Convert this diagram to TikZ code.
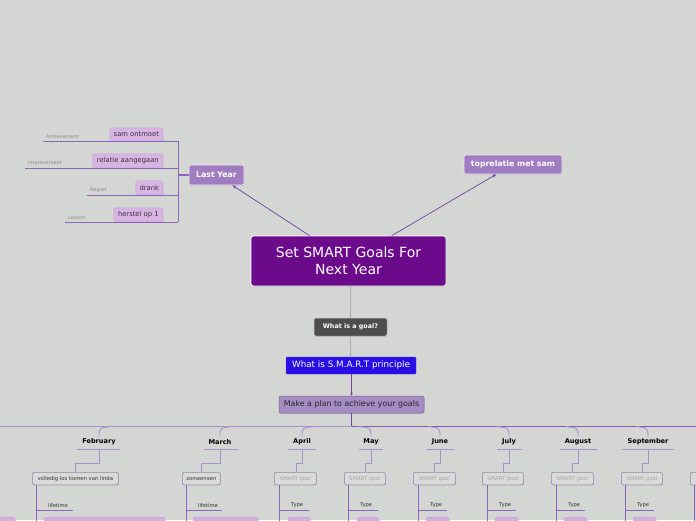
\documentclass[tikz,border=0pt]{standalone}
\usepackage{fontspec}
\setmainfont{DejaVu Sans}
\usetikzlibrary{shadows,arrows.meta,calc}
\definecolor{bg}{RGB}{211,214,210}
\definecolor{mainfill}{RGB}{108,10,140}
\definecolor{topicfill}{RGB}{160,125,192}
\definecolor{subfill}{RGB}{216,180,228}
\definecolor{goalfill}{RGB}{77,77,75}
\definecolor{smartfill}{RGB}{40,14,228}
\definecolor{planfill}{RGB}{166,140,196}
\definecolor{linepurple}{RGB}{112,64,160}
\definecolor{lightline}{RGB}{170,145,204}
\definecolor{midline}{RGB}{140,100,185}
\definecolor{greyline}{RGB}{175,175,175}
\definecolor{labgrey}{RGB}{140,140,140}
\definecolor{boxfill}{RGB}{218,219,216}
\definecolor{boxline}{RGB}{150,130,180}
\definecolor{pinkfill}{RGB}{212,174,224}
\newcommand\myfs[1]{\fontsize{#1}{#1}\selectfont}
\begin{document}
\begin{tikzpicture}[x=1pt,y=-1pt,
  shad/.style={drop shadow={opacity=0.25,shadow xshift=0.4pt,shadow yshift=-0.8pt}},
  mainbox/.style={draw=white,line width=0.8pt,fill=mainfill,rounded corners=2.5pt,text=white,
    minimum width=195pt,minimum height=50pt,inner sep=0pt,align=center,font=\myfs{14}\linespread{1.2}\selectfont,shad},
  topicbox/.style={draw=white!85!topicfill,line width=0.6pt,fill=topicfill,rounded corners=2pt,text=white,
    inner sep=0pt,font=\myfs{7.8}\bfseries,shad},
  subbox/.style={fill=subfill,draw=subfill!90!black,line width=0.3pt,rounded corners=1.5pt,text=black!80,
    inner sep=0pt,minimum height=13pt,font=\myfs{6.8},shad},
  catlab/.style={text=labgrey,font=\myfs{5},inner xsep=3pt,inner ysep=2pt},
  goalbox/.style={fill=goalfill,draw=white!70!goalfill,line width=0.5pt,rounded corners=2pt,text=white,
    inner sep=0pt,minimum width=73pt,minimum height=18pt,font=\myfs{6.4}\bfseries,shad},
  smartbox/.style={fill=smartfill,draw=smartfill!80!white,line width=0.4pt,rounded corners=1pt,text=white,
    inner sep=0pt,minimum width=130pt,minimum height=17pt,font=\myfs{8.8}},
  planbox/.style={fill=planfill,draw=planfill!70!black,line width=0.5pt,rounded corners=2pt,text=black!85,
    inner sep=0pt,minimum width=145pt,minimum height=17pt,font=\myfs{7.9},shad},
  arrowline/.style={draw=linepurple,line width=0.7pt,-{Stealth[length=4pt,width=3.2pt]}},
  greyarrow/.style={draw=greyline,line width=0.7pt,-{Stealth[length=3pt,width=2.6pt]}},
  purplearrow/.style={draw=linepurple,line width=1pt,-{Stealth[length=3pt,width=2.6pt]}},
  bracket/.style={draw=midline,line width=0.6pt},
  monthline/.style={draw=lightline,line width=0.9pt},
  monthlab/.style={font=\myfs{6.6}\bfseries,text=black,inner sep=0pt},
  mbox/.style={fill=boxfill,draw=boxline,line width=0.6pt,rounded corners=1.5pt,inner sep=0pt,
    minimum height=12.5pt,font=\myfs{5.3},shad},
  branchlab/.style={font=\myfs{5.2},text=black!80,inner sep=0pt},
  vline/.style={draw=midline,line width=0.8pt},
  pinkbox/.style={fill=pinkfill,draw=pinkfill!90!black,line width=0.3pt,rounded corners=1.5pt,inner sep=0pt}
]
\clip (0,0) rectangle (696,520);
\fill[bg] (0,0) rectangle (696,520);

% central and topics
\node[mainbox] (main) at (348.5,261) {Set SMART Goals For\\Next Year};
\node[topicbox,minimum width=55pt,minimum height=20pt] (last) at (216.5,175) {Last Year};
\node[topicbox,minimum width=98pt,minimum height=19pt] (top) at (513,164.5) {toprelatie met sam};
\draw[arrowline] (main) -- (last);
\draw[arrowline] (main) -- (top);

% Last Year children
\node[subbox,anchor=south east,minimum width=53pt] (c1) at (163,141) {sam ontmoet};
\node[subbox,anchor=south east,minimum width=70pt,minimum height=14pt] (c2) at (163,168) {relatie aangegaan};
\node[subbox,anchor=south east,minimum width=27pt,minimum height=14pt] (c3) at (163,195) {drank};
\node[subbox,anchor=south east,minimum width=49pt,minimum height=14pt] (c4) at (163,222) {herstel op 1};
\node[catlab,anchor=south west] (l1) at (43,141) {Achievement};
\node[catlab,anchor=south west] (l2) at (25,168) {Improvement};
\node[catlab,anchor=south west] (l3) at (87,195) {Regret};
\node[catlab,anchor=south west] (l4) at (65,222) {Lesson};
\coordinate (bx) at (178,175);
\draw[bracket,line width=1.2pt] (last.west) -- (bx);
\draw[bracket] (bx |- c1.south) -- (bx |- c4.south);
\foreach \k in {1,2,3,4}{
  \draw[bracket] (l\k.south west) -- (bx |- c\k.south);
}

% vertical chain
\node[goalbox] (goal) at (350.5,327) {What is a goal?};
\node[smartbox] (smart) at (351,365.5) {What is S.M.A.R.T principle};
\node[planbox] (plan) at (351.5,404.5) {Make a plan to achieve your goals};
\draw[greyarrow] (main.south -| goal.north) -- (goal.north);
\draw[greyarrow] (goal.south) -- (goal.south |- smart.north);
\draw[purplearrow] (smart.south -| plan.north) -- (plan.north);

% main horizontal line
\coordinate (trunk) at (351.5,426.5);
\coordinate (W) at (0,426.5);
\coordinate (E) at (696,426.5);
\draw[draw=linepurple,line width=1.3pt] (plan.south) -- (trunk);
\draw[draw=lightline,line width=1pt] (W) -- (trunk);
\draw[draw=linepurple!85!white,line width=1.3pt] (trunk) -- (E);

% months
\foreach \cx/\ul/\ur/\sx/\bl/\bw/\btext/\tcol/\vx/\lab/\br/\pl/\pr/\mname/\dd [count=\i] in {
  99/77/120/75/32/86/{volledig los komen van linda}/black!80/36/lifetime/73/44/165/February/1,
  220/204/238/201/182/38/zonwensen/black!80/186/lifetime/222/193/258/March/1,
  302/288/316/296/274/42/{SMART goal}/black!35/279/Type/309/288/310/April/1,
  371/359/383/365/344/41/{SMART goal}/black!35/348/Type/378/357/379/May/-1,
  440/427/454/434/413/42/{SMART goal}/black!35/418/Type/447/426/449/June/-1,
  509/497/522/503/482/41/{SMART goal}/black!35/487/Type/516/495/518/July/-1,
  578/560/597/572/551/42/{SMART goal}/black!35/556/Type/585/564/587/August/-1,
  648/622/674/642/621/41/{SMART goal}/black!35/625/Type/654/633/656/September/-1}{
  \draw[monthline] (\cx,436.5) .. controls (\cx,428) .. ({\cx+\dd*12},426.5);
  \node[monthlab] (m\i) at (\cx,442) {\mname};
  \coordinate (u\i) at (\cx,449);
  \draw[monthline] (\ul,449) -- (\ur,449);
  \node[mbox,anchor=north west,minimum width=\bw pt,text=\tcol] (b\i) at (\bl,472) {\btext};
  \draw[monthline] (u\i) -- (\cx,463) -- (\sx,463) -- (b\i.north -| \sx,0);
  \coordinate (v\i) at (\vx,485);
  \draw[vline] (v\i) -- (\vx,525);
  \draw[vline] (\vx,510) -- (\br,510);
  \node[branchlab,anchor=south west] (t\i) at ({\vx+12},508) {\lab};
  \node[pinkbox,anchor=north west,minimum width={\pr-\pl},minimum height=8pt] (p\i) at (\pl,517) {};
}
% partially visible items
\node[mbox,anchor=north west,minimum width=42pt,text=black!35] (b9) at (690,472) {SMART goal};
\draw[vline] (694,485) -- (694,525);
\node[pinkbox,anchor=north west,minimum width=16pt,minimum height=8pt] (p0) at (-1,517) {};
\end{tikzpicture}
\end{document}
